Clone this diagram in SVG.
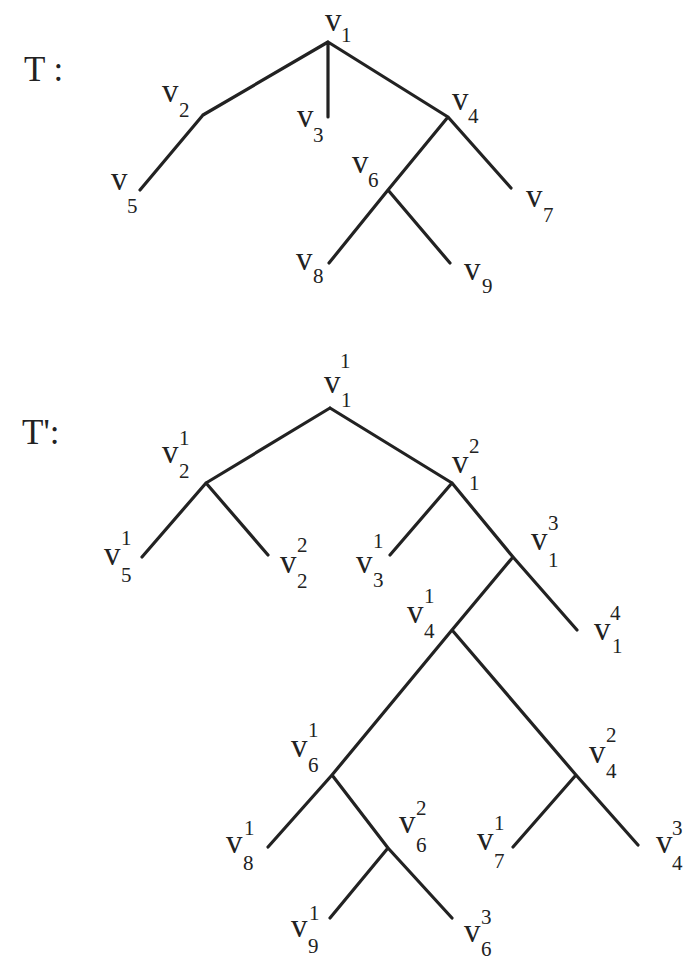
<svg xmlns="http://www.w3.org/2000/svg" width="683" height="962" viewBox="0 0 683 962">
<style>
.e{stroke:#222;stroke-width:3.2;stroke-linecap:round;fill:none}
text{font-family:"Liberation Serif","DejaVu Serif",serif;fill:#222}
.v{font-size:33px}
.d{font-size:21px}
.t{font-size:35px}
</style>
<rect width="683" height="962" fill="#fff"/>
<g id="labels">
<text class="t" x="24" y="81">T :</text>
<text class="t" x="22" y="444">T':</text>
</g>
<g id="connectors" class="e">
<path d="M328 42L203 115M203 115L140 190M328 42L328 117M328 42L448 117M448 117L388 190M448 117L511 188M388 190L329 263M388 190L450 263"/>
<path d="M330 408L206 483M206 483L142 557M206 483L268 555M330 408L452 483M452 483L390 555M452 483L513 557M513 557L452 630M513 557L577 630M452 630L332 775M452 630L576 775M332 775L268 847M332 775L388 848M388 848L330 918M388 848L452 918M576 775L513 847M576 775L638 845"/>
</g>
<g id="T-v1"><text class="v" x="325" y="31">v</text><text class="d" x="341" y="42">1</text></g>
<g id="T-v2"><text class="v" x="162" y="102">v</text><text class="d" x="179" y="117">2</text></g>
<g id="T-v3"><text class="v" x="297" y="127">v</text><text class="d" x="313" y="142">3</text></g>
<g id="T-v4"><text class="v" x="452" y="110">v</text><text class="d" x="468" y="123">4</text></g>
<g id="T-v5"><text class="v" x="111" y="190">v</text><text class="d" x="127" y="213">5</text></g>
<g id="T-v6"><text class="v" x="352" y="173">v</text><text class="d" x="368" y="187">6</text></g>
<g id="T-v7"><text class="v" x="526" y="207">v</text><text class="d" x="543" y="222">7</text></g>
<g id="T-v8"><text class="v" x="296" y="270">v</text><text class="d" x="313" y="283">8</text></g>
<g id="T-v9"><text class="v" x="464" y="280">v</text><text class="d" x="482" y="293">9</text></g>

<g id="v1-1"><text class="v" x="324" y="393">v</text><text class="d" x="340" y="368">1</text><text class="d" x="341" y="407">1</text></g>
<g id="v2-1"><text class="v" x="162" y="463">v</text><text class="d" x="179" y="445">1</text><text class="d" x="179" y="478">2</text></g>
<g id="v1-2"><text class="v" x="452" y="473">v</text><text class="d" x="469" y="453">2</text><text class="d" x="469" y="490">1</text></g>
<g id="v5-1"><text class="v" x="104" y="565">v</text><text class="d" x="121" y="545">1</text><text class="d" x="121" y="582">5</text></g>
<g id="v2-2"><text class="v" x="280" y="573">v</text><text class="d" x="297" y="552">2</text><text class="d" x="297" y="588">2</text></g>
<g id="v3-1"><text class="v" x="356" y="573">v</text><text class="d" x="373" y="548">1</text><text class="d" x="373" y="587">3</text></g>
<g id="v1-3"><text class="v" x="531" y="550">v</text><text class="d" x="548" y="530">3</text><text class="d" x="548" y="567">1</text></g>
<g id="v4-1"><text class="v" x="407" y="623">v</text><text class="d" x="424" y="603">1</text><text class="d" x="424" y="638">4</text></g>
<g id="v1-4"><text class="v" x="594" y="640">v</text><text class="d" x="610" y="620">4</text><text class="d" x="612" y="653">1</text></g>
<g id="v6-1"><text class="v" x="291" y="757">v</text><text class="d" x="308" y="737">1</text><text class="d" x="308" y="772">6</text></g>
<g id="v4-2"><text class="v" x="589" y="763">v</text><text class="d" x="606" y="742">2</text><text class="d" x="606" y="778">4</text></g>
<g id="v8-1"><text class="v" x="226" y="853">v</text><text class="d" x="244" y="835">1</text><text class="d" x="243" y="870">8</text></g>
<g id="v6-2"><text class="v" x="399" y="833">v</text><text class="d" x="416" y="815">2</text><text class="d" x="416" y="852">6</text></g>
<g id="v7-1"><text class="v" x="477" y="850">v</text><text class="d" x="494" y="830">1</text><text class="d" x="494" y="868">7</text></g>
<g id="v4-3"><text class="v" x="656" y="853">v</text><text class="d" x="672" y="835">3</text><text class="d" x="672" y="870">4</text></g>
<g id="v9-1"><text class="v" x="291" y="937">v</text><text class="d" x="309" y="920">1</text><text class="d" x="308" y="953">9</text></g>
<g id="v6-3"><text class="v" x="464" y="942">v</text><text class="d" x="481" y="924">3</text><text class="d" x="481" y="956">6</text></g>
</svg>
